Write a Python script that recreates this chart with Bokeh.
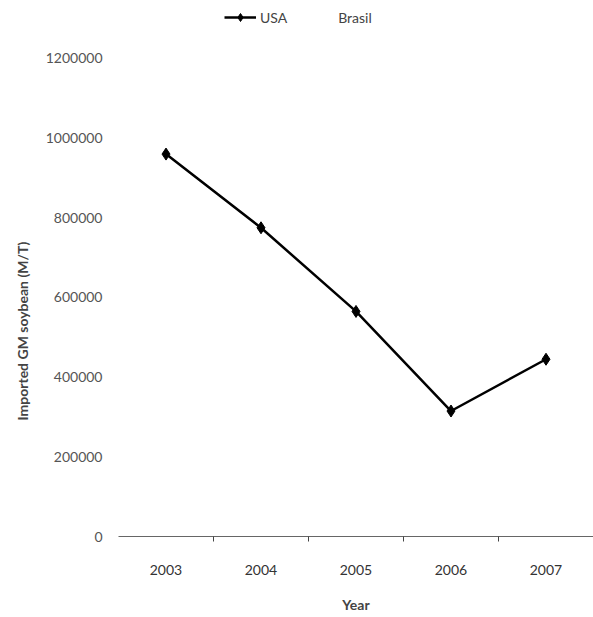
from bokeh.plotting import figure
from bokeh.models import Range1d, FixedTicker, Legend, LegendItem, Title
from bokeh.embed import file_html
from bokeh.resources import INLINE

years = [2003, 2004, 2005, 2006, 2007]
usa = [960000, 775000, 565000, 315000, 445000]
year_labels = {2003: "2003", 2004: "2004", 2005: "2005", 2006: "2006", 2007: "2007"}
y_ticks = [0, 200000, 400000, 600000, 800000, 1000000, 1200000]

p = figure(width=593, height=617, output_backend="svg", toolbar_location=None,
           x_range=Range1d(2002.5, 2007.5), y_range=Range1d(0, 1333000),
           min_border_left=118, min_border_right=0, min_border_top=5, min_border_bottom=81)
p.frame_width = 475
p.frame_height = 531
p.outline_line_color = None
p.grid.visible = False

r_usa = p.line(years, usa, line_color="black", line_width=2.5)
r_usa_m = p.scatter(years, usa, marker="diamond", size=12, color="black")
r_br = p.line([], [], line_alpha=0)

font = "Lato"
p.xaxis.ticker = FixedTicker(ticks=years, minor_ticks=[2003.5, 2004.5, 2005.5, 2006.5])
p.xaxis.major_label_overrides = year_labels
p.xaxis.major_tick_line_color = None
p.xaxis.minor_tick_out = 5
p.xaxis.minor_tick_in = 0
p.xaxis.minor_tick_line_color = "#444444"
p.xaxis.axis_line_color = "#666666"
p.xaxis.axis_line_width = 1
p.xaxis.major_label_standoff = 22
p.xaxis.major_label_text_font = font
p.xaxis.major_label_text_font_size = "14px"
p.xaxis.major_label_text_color = "#333333"
p.xaxis.axis_label = "Year"
p.xaxis.axis_label_text_font = font
p.xaxis.axis_label_text_font_style = "bold"
p.xaxis.axis_label_text_font_size = "14px"
p.xaxis.axis_label_standoff = 18

p.yaxis.ticker = FixedTicker(ticks=y_ticks)
p.yaxis.major_label_overrides = {t: str(t) for t in y_ticks}
p.yaxis.axis_line_color = None
p.yaxis.major_tick_line_color = None
p.yaxis.minor_tick_line_color = None
p.yaxis.major_label_standoff = 10
p.yaxis.major_label_text_font = font
p.yaxis.major_label_text_font_size = "14px"
p.yaxis.major_label_text_color = "#555555"

ytitle = Title(text="Imported GM soybean (M/T)", align="left", offset=116,
               text_font=font, text_font_style="bold", text_font_size="14px",
               standoff=23)
p.add_layout(ytitle, "left")

legend = Legend(items=[LegendItem(label="USA", renderers=[r_usa, r_usa_m]),
                       LegendItem(label="Brasil", renderers=[r_br])],
                orientation="horizontal", location=(106, 509),
                border_line_color=None, background_fill_alpha=0,
                label_text_font=font, label_text_font_size="14px",
                glyph_width=32, spacing=15, padding=2, margin=0, label_standoff=4)
p.add_layout(legend, "center")

open("out.html", "w").write(file_html(p, INLINE))
